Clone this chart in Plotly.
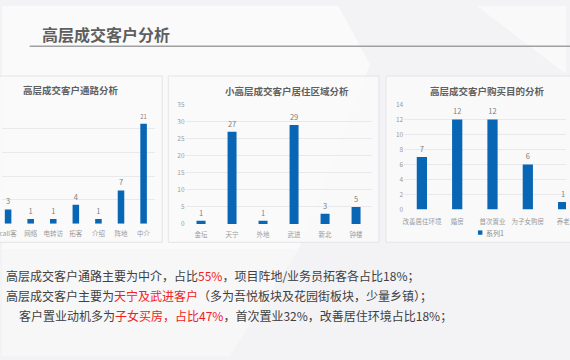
import plotly.graph_objects as go

W, H = 570, 360

# ---- data ----
ch1_title = "高层成交客户通路分析"
ch1_cats = ["call客", "网络", "电转访", "拓客", "介绍", "阵地", "中介"]
ch1_vals = [3, 1, 1, 4, 1, 7, 21]

ch2_title = "小高层成交客户居住区域分析"
ch2_cats = ["金坛", "天宁", "外地", "武进", "新北", "钟楼"]
ch2_vals = [1, 27, 1, 29, 3, 5]

ch3_title = "高层成交客户购买目的分析"
ch3_cats = ["改善居住环境", "婚房", "首次置业", "为子女购房", "养老"]
ch3_vals = [7, 12, 12, 6, 1]
ch3_series = "系列1"

page_title = "高层成交客户分析"
notes = [
    "高层成交客户通路主要为中介，占比<span style='color:#f22020'>55%</span>，项目阵地/业务员拓客各占比18%；",
    "高层成交客户主要为<span style='color:#f22020'>天宁及武进客户</span>（多为吾悦板块及花园街板块，少量乡镇）；",
    "客户置业动机多为<span style='color:#f22020'>子女买房，占比47%</span>，首次置业32%，改善居住环境占比18%；",
]

# ---- styling ----
BAR = "#0866b4"
FONT = "Noto Sans CJK SC"
TICK = dict(size=6.5, color="#9a9a9a", family=FONT)
GRID = "#e9e9ec"
VAL = dict(size=7.5, color="#7f7f7f", family=FONT)


def px(x):
    return x / W


def py(y):
    return 1 - y / H


fig = go.Figure()

for cats, vals, xa, ya in [
    (ch1_cats, ch1_vals, "x", "y"),
    (ch2_cats, ch2_vals, "x2", "y2"),
    (ch3_cats, ch3_vals, "x3", "y3"),
]:
    fig.add_trace(go.Bar(
        x=cats, y=vals, xaxis=xa, yaxis=ya, width=0.29,
        marker=dict(color=BAR, line=dict(width=0)),
        text=vals, textposition="outside", cliponaxis=False,
        textfont=VAL, outsidetextfont=VAL,
        showlegend=False, hoverinfo="skip",
    ))

common_x = dict(type="category", showgrid=False, zeroline=False, showline=False,
                ticks="", tickfont=TICK)
common_y = dict(showgrid=True, gridcolor=GRID, gridwidth=1, zeroline=False,
                showline=False, ticks="", tickfont=TICK)

fig.update_layout(
    width=W, height=H,
    margin=dict(l=0, r=0, t=0, b=0),
    paper_bgcolor="#f3f3f5",
    plot_bgcolor="rgba(0,0,0,0)",
    font=dict(family=FONT),
    showlegend=False,
    xaxis=dict(domain=[px(0), px(154.5)], range=[-0.27, 6.5], anchor="y",
               ticklabelstandoff=5, **common_x),
    yaxis=dict(domain=[py(224), py(101.5)], range=[0, 25], dtick=5, anchor="x",
               showticklabels=False, **common_y),
    xaxis2=dict(domain=[px(185.5), px(373.5)], range=[-0.5, 5.5], anchor="y2",
                ticklabelstandoff=5, **common_x),
    yaxis2=dict(domain=[py(224.3), py(101.3)], range=[0, 35], dtick=5, anchor="x2",
                **common_y),
    xaxis3=dict(domain=[px(406.5), px(570)], range=[-0.5, (570 - 424.3) / 35.7], anchor="y3",
                ticklabelstandoff=7, **common_x),
    yaxis3=dict(domain=[py(209.3), py(101.3)], range=[0, 14], dtick=2, anchor="x3",
                **common_y),
)

shapes = []
# faint background decorations
shapes.append(dict(type="path", xref="paper", yref="paper", layer="below",
                   path=f"M {px(0)} {py(0)} L {px(340)} {py(0)} L {px(372)} {py(60)} L {px(300)} {py(250)} L {px(0)} {py(250)} Z",
                   fillcolor="rgba(255,255,255,0.55)", line=dict(width=0)))
shapes.append(dict(type="path", xref="paper", yref="paper", layer="below",
                   path=f"M {px(0)} {py(250)} L {px(300)} {py(250)} L {px(230)} {py(360)} L {px(0)} {py(360)} Z",
                   fillcolor="rgba(255,255,255,0.35)", line=dict(width=0)))
shapes.append(dict(type="path", xref="paper", yref="paper", layer="below",
                   path=f"M {px(480)} {py(0)} L {px(570)} {py(0)} L {px(570)} {py(70)} Z",
                   fillcolor="rgba(255,255,255,0.5)", line=dict(width=0)))
# title underline
shapes.append(dict(type="line", xref="paper", yref="paper", layer="below",
                   x0=px(28), x1=px(575), y0=py(41.5), y1=py(41.5),
                   line=dict(color="#a0a0a0", width=1.5)))
# cards
for x0, x1 in [(-5, 162), (168, 381), (388, 580)]:
    shapes.append(dict(type="rect", xref="paper", yref="paper", layer="below",
                       x0=px(x0), x1=px(x1), y0=py(243), y1=py(72),
                       fillcolor="rgba(250,250,251,0.9)", line=dict(color="#e4e4e8", width=1)))
# legend swatch for chart 3
shapes.append(dict(type="rect", xref="paper", yref="paper",
                   x0=px(481), x1=px(485.5), y0=py(235.3), y1=py(230.8),
                   fillcolor=BAR, line=dict(width=0)))
fig.update_layout(shapes=shapes)

ann = []
ann.append(dict(text=f"<b>{page_title}</b>", x=px(38), y=py(29), xref="paper", yref="paper",
                xanchor="left", yanchor="middle", showarrow=False,
                font=dict(size=16, color="#5f5f5f", family=FONT)))
for t, cx, cy in [(ch1_title, 70, 86), (ch2_title, 288.5, 87), (ch3_title, 491, 87)]:
    ann.append(dict(text=f"<b>{t}</b>", x=px(cx), y=py(cy), xref="paper", yref="paper",
                    xanchor="center", yanchor="middle", showarrow=False,
                    font=dict(size=9.5, color="#5f5f5f", family=FONT)))
ann.append(dict(text=ch3_series, x=px(487), y=py(233), xref="paper", yref="paper",
                xanchor="left", yanchor="middle", showarrow=False,
                font=dict(size=7, color="#8a8a8a", family=FONT)))
for t, lx, ly in zip(notes, [2, 2, 15], [277, 297.5, 318]):
    ann.append(dict(text=t, x=px(lx), y=py(ly), xref="paper", yref="paper",
                    xanchor="left", yanchor="middle", showarrow=False, align="left",
                    font=dict(size=12, color="#404040", family=FONT)))
fig.update_layout(annotations=ann)

fig.write_html("out.html")
